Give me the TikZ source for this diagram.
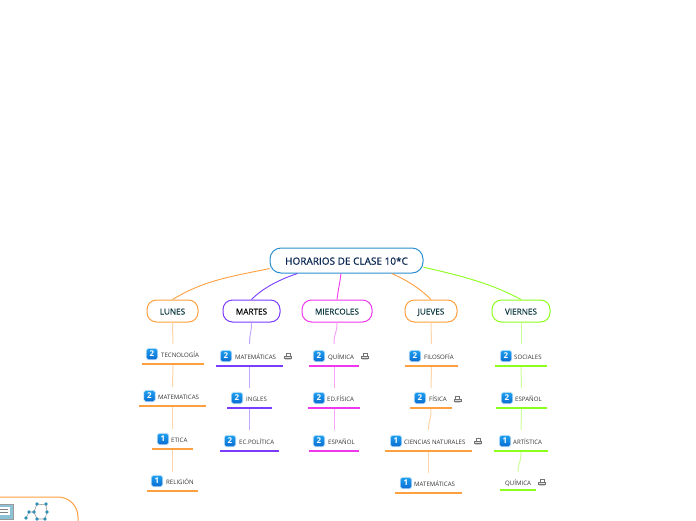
\documentclass[tikz,border=0pt]{standalone}
\usepackage{fontspec}
\setmainfont{Open Sans}
\definecolor{corange}{HTML}{FFA040}
\definecolor{cpurple}{HTML}{7A3CFF}
\definecolor{cmagenta}{HTML}{EE38EE}
\definecolor{cgreen}{HTML}{8CFF1E}
\definecolor{croot}{HTML}{2B8FD0}
\definecolor{ctxt}{HTML}{103C44}
\definecolor{cnavy}{HTML}{0D2A55}
\definecolor{bluetop}{HTML}{1FA0F0}
\definecolor{bluebot}{HTML}{0A6CD0}
\definecolor{bluerim}{HTML}{CFE8FB}
\definecolor{teal}{HTML}{2F8FB5}
\tikzset{
 rootbox/.style={draw=croot,line width=1pt,rounded corners=11pt,fill=white,inner sep=0pt,text=cnavy,text height=8.4pt,text depth=0pt,font=\fontsize{10}{12}\selectfont\addfontfeatures{FakeBold=.9}},
 daybox/.style={draw=#1,line width=1pt,rounded corners=9.5pt,fill=white,inner sep=0pt,text=ctxt,text height=7pt,text depth=0pt,font=\fontsize{8.2}{9}\selectfont\addfontfeatures{FakeBold=.35}},
 rule/.style={fill=#1,draw=none,inner sep=0pt,minimum height=1.8pt},
 badge/.style={draw=bluerim,line width=.8pt,rounded corners=1.8pt,top color=bluetop,bottom color=bluebot,minimum size=11.5pt,inner sep=0pt,text=white,font=\fontsize{8}{9}\selectfont\bfseries},
 leaftext/.style={anchor=west,inner sep=0pt,text=black!80,font=\fontsize{6.1}{7}\selectfont},
 topline/.style={#1,line width=.9pt},
 subline/.style={#1!45,line width=1pt},
 printer/.pic={\draw[black!55,line width=.5pt,fill=white] (-1.8,-3) rectangle (1.8,0);\draw[black!55,line width=.5pt,fill=black!12] (-3.6,0) rectangle (3.6,2.4);\draw[black!55,line width=.5pt] (-1.8,2.4) -- (-2.4,3.2) -- (2.4,3.2) -- (1.8,2.4);}
}
\newcommand{\leaf}[9]{%
 \node[rule=#2,minimum width={(#4-#3)*1pt}] (#1) at ({(#3+#4)/2},#5) {};
 \node[badge] (#1-b) at (#6,#5-10) {#7};
 \node[leaftext] (#1-t) at (#8,#5-9) {#9};
}
\newcommand{\prn}[2]{\pic at (#1,#2) {printer};}
\begin{document}
\begin{tikzpicture}[x=1pt,y=-1pt]
\useasboundingbox (0,0) rectangle (696,520);
% bottom-left cut-off topic
\begin{scope}
\clip (0,0) rectangle (696,520);
\draw[corange,line width=1pt,rounded corners=20pt] (-40,497) -- (78,497) -- (78,540);
\draw[black!40,fill=teal!55,line width=.8pt] (-3,504) rectangle (13,519);
\fill[white] (-2,507) rectangle (10,515);
\draw[black!50,line width=.5pt] (0,509) -- (8,509) (0,512) -- (8,512);
\draw[black!40,line width=.6pt] (37,504) -- (46,505) -- (47,512) -- (45,519) -- (37,519) -- (34,512) -- cycle (34,512) -- (29,512) -- (26,518);
\foreach \p in {(37,504),(46,504),(47,512),(45,519),(37,519),(34,512),(29,512),(26,518)}
  \fill[teal] \p circle (1.8);
\end{scope}
% root and days
\node[rootbox,minimum width=153pt,minimum height=25pt] (root) at (346.5,260.5) {HORARIOS DE CLASE 10*C};
\node[daybox=corange,minimum width=51pt,minimum height=22pt] (lunes) at (172.5,311) {LUNES};
\node[daybox=cpurple,minimum width=57pt,minimum height=22pt] (martes) at (251.5,311) {\textcolor{black}{MARTES}};
\node[daybox=cmagenta,minimum width=70pt,minimum height=22pt] (miercoles) at (337,311) {MIERCOLES};
\node[daybox=corange,minimum width=52pt,minimum height=22pt] (jueves) at (431,311) {JUEVES};
\node[daybox=cgreen,minimum width=58pt,minimum height=22pt] (viernes) at (521,311) {VIERNES};
% leaves
\leaf{l1}{corange}{142}{204}{364}{152}{2}{161}{TECNOLOGÍA}
\leaf{l2}{corange}{139}{206}{406}{149.5}{2}{158}{MATEMATICAS}
\leaf{l3}{corange}{152}{193}{449}{163}{1}{171}{ETICA}
\leaf{l4}{corange}{147}{198}{491}{157}{1}{166}{RELIGIÓN}
\leaf{m1}{cpurple}{216}{283}{366}{226}{2}{235}{MATEMÁTICAS}
\leaf{m2}{cpurple}{227}{272}{408}{237}{2}{246}{INGLES}
\leaf{m3}{cpurple}{220}{279}{451}{230}{2}{239}{EC.POLÍTICA}
\leaf{x1}{cmagenta}{309}{359}{366}{319}{2}{328}{QUÍMICA}
\leaf{x2}{cmagenta}{308}{360}{408}{319}{2}{327}{ED.FÍSICA}
\leaf{x3}{cmagenta}{309}{359}{451}{319}{2}{328}{ESPAÑOL}
\leaf{j1}{corange}{405}{458}{366}{415}{2}{424}{FILOSOFÍA}
\leaf{j2}{corange}{410}{452}{408}{420}{2}{429}{FÍSICA}
\leaf{j3}{corange}{385}{472}{451}{396}{1}{404}{CIENCIAS NATURALES}
\leaf{j4}{corange}{395}{462}{493}{406}{1}{414}{MATEMÁTICAS}
\leaf{v1}{cgreen}{495}{547}{366}{506}{2}{514}{SOCIALES}
\leaf{v2}{cgreen}{496}{547}{408}{507}{2}{515}{ESPAÑOL}
\leaf{v3}{cgreen}{494}{548}{451}{505}{1}{513}{ARTÍSTICA}
\node[rule=cgreen,minimum width=36pt] (v4) at (518,490) {};
\node[leaftext] (v4-t) at (505,483) {QUÍMICA};
% icons
\prn{288}{356}\prn{365}{356}\prn{457.5}{399}\prn{478}{441}\prn{542}{482}
% connectors root-day
\draw[topline=corange] (root.186) .. controls +(-45,9) and +(30,-18) .. (lunes.north);
\draw[topline=cpurple] ([xshift=-49pt]root.south) .. controls +(-18,6) and +(12,-12) .. (martes.north);
\draw[topline=cmagenta] ([xshift=-5.5pt]root.south) .. controls +(-1.5,12) and +(1.5,-12) .. (miercoles.north);
\draw[topline=corange] ([xshift=45pt]root.south) .. controls +(14,6) and +(-12,-12) .. (jueves.north);
\draw[topline=cgreen] (root.-5.5) .. controls +(40,9) and +(-30,-16) .. (viernes.north);
% connectors day-leaf and leaf-leaf
\draw[subline=corange] (lunes.south) -- ([yshift=19pt]l1.north);
\draw[subline=corange] (l1.south) -- ([yshift=18pt]l2.north);
\draw[subline=corange] (l2.south) -- ([yshift=19pt]l3.north);
\draw[subline=corange] (l3.south) -- ([yshift=18pt]l4.north);
\draw[subline=cpurple] (martes.south) .. controls +(0,12) and +(0,-12) .. ([yshift=21pt]m1.north);
\draw[subline=cpurple] (m1.south) -- ([yshift=19pt]m2.north);
\draw[subline=cpurple] (m2.south) -- ([yshift=20pt]m3.north);
\draw[subline=cmagenta] (miercoles.south) .. controls +(0,12) and +(0,-12) .. ([yshift=21pt]x1.north);
\draw[subline=cmagenta] (x1.south) -- ([yshift=19pt]x2.north);
\draw[subline=cmagenta] (x2.south) -- ([yshift=20pt]x3.north);
\draw[subline=corange] (jueves.south) -- ([yshift=21pt]j1.north);
\draw[subline=corange] (j1.south) -- ([yshift=19pt]j2.north);
\draw[subline=corange] (j2.south) .. controls +(0,12) and +(0,-10) .. ([yshift=20pt]j3.north);
\draw[subline=corange] (j3.south) -- ([yshift=19pt]j4.north);
\draw[subline=cgreen] (viernes.south) -- ([yshift=21pt]v1.north);
\draw[subline=cgreen] (v1.south) -- ([yshift=19pt]v2.north);
\draw[subline=cgreen] (v2.south) -- ([yshift=20pt]v3.north);
\draw[subline=cgreen] (v3.south) .. controls +(0,12) and +(0,-10) .. ([yshift=17pt]v4.north);
\end{tikzpicture}
\end{document}
